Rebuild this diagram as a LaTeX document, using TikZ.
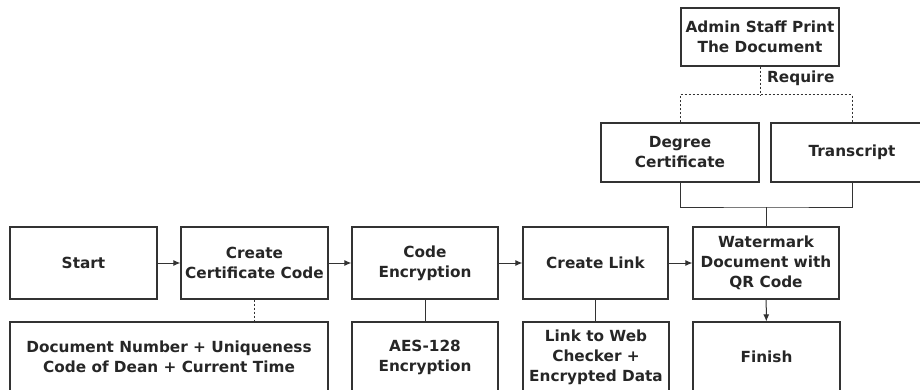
\documentclass[tikz,border=0pt]{standalone}
\usepackage{fontspec}
\setmainfont{DejaVu Sans}
\usetikzlibrary{arrows.meta}
\newcommand{\boxfnt}{\bfseries\fontsize{15.3pt}{20pt}\selectfont}
\tikzset{
  box/.style={draw=black!80, line width=1.2pt, align=center, inner sep=0pt,
    font=\boxfnt, text=black!85},
  link/.style={draw=black!80, line width=1pt},
  arr/.style={link, -{Latex[length=7pt,width=6pt]}},
  dlink/.style={link, dash pattern=on 2pt off 2pt},
}
\begin{document}
\begin{tikzpicture}[x=1pt,y=-1pt]
\useasboundingbox (0,0) rectangle (920,390);
\clip (0,0) rectangle (920,390);
\node[box, minimum width=147pt, minimum height=72pt] (start) at (83.5,263) {Start};
\node[box, minimum width=147pt, minimum height=72pt] (ccc) at (254.5,263) {Create\\Certificate Code};
\node[box, minimum width=146pt, minimum height=72pt] (ce) at (425,263) {Code\\Encryption};
\node[box, minimum width=145pt, minimum height=72pt] (cl) at (595.5,263) {Create Link};
\node[box, minimum width=146pt, minimum height=72pt] (wm) at (766,263) {Watermark\\Document with\\QR Code};
\node[box, minimum width=318pt, minimum height=70pt] (doc) at (169,357) {Document Number + Uniqueness\\Code of Dean + Current Time};
\node[box, minimum width=146pt, minimum height=70pt] (aes) at (425,357) {AES-128\\Encryption};
\node[box, minimum width=146pt, minimum height=70pt] (lw) at (596,357) {Link to Web\\Checker +\\Encrypted Data};
\node[box, minimum width=147pt, minimum height=70pt] (fin) at (766.5,357) {Finish};
\node[box, minimum width=158pt, minimum height=58pt] (adm) at (760,37) {Admin Staff Print\\The Document};
\node[box, minimum width=158pt, minimum height=59pt] (deg) at (680,152.5) {Degree\\Certificate};
\node[box, minimum width=162pt, minimum height=59pt] (tr) at (852,152.5) {Transcript};
\node[font=\boxfnt, text=black!85, anchor=west, inner sep=0pt] (req) at (767,78) {Require};
\draw[arr] (start) -- (ccc);
\draw[arr] (ccc) -- (ce);
\draw[arr] (ce) -- (cl);
\draw[arr] (cl) -- (wm);
\draw[arr] (wm) -- (fin);
\draw[dlink] (ccc.south) -- (ccc.south |- doc.north);
\draw[link] (ce) -- (aes);
\draw[link] (cl.south) -- (cl.south |- lw.north);
\coordinate (dj) at (760,95);
\draw[dlink] (adm.south) -- (dj);
\draw[dlink] (deg.north) |- (dj) -| (tr.north);
\coordinate (sj) at (766,207);
\draw[link] (deg.south) |- (sj) -| (tr.south);
\draw[link] (sj) -- (wm.north);
\end{tikzpicture}
\end{document}
